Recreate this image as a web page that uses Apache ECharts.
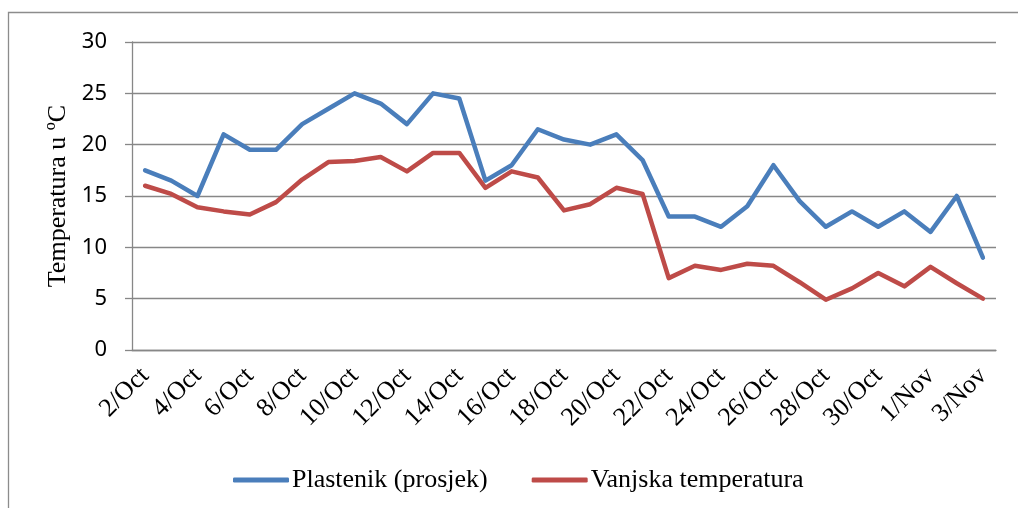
<!DOCTYPE html>
<html lang="hr">
<head>
    <meta charset="UTF-8">
    <title>Temperatura</title>
    <script src="https://cdn.jsdelivr.net/npm/echarts@6/dist/echarts.min.js"></script>
    <style>
        body, html { margin: 0; background: #fff; width: 100%; height: 100%; }
    </style>
</head>
<body>
    <div id="chart" style="width: 1018px; height: 508px;"></div>
    <script>
        // dani od 2/Oct do 3/Nov
        var days = ['2/Oct', '3/Oct', '4/Oct', '5/Oct', '6/Oct', '7/Oct', '8/Oct', '9/Oct', '10/Oct', '11/Oct',
            '12/Oct', '13/Oct', '14/Oct', '15/Oct', '16/Oct', '17/Oct', '18/Oct', '19/Oct', '20/Oct', '21/Oct',
            '22/Oct', '23/Oct', '24/Oct', '25/Oct', '26/Oct', '27/Oct', '28/Oct', '29/Oct', '30/Oct', '31/Oct',
            '1/Nov', '2/Nov', '3/Nov'];
        var plastenik = [17.5, 16.5, 15, 21, 19.5, 19.5, 22, 23.5, 25, 24, 22, 25, 24.5, 16.5, 18, 21.5, 20.5,
            20, 21, 18.5, 13, 13, 12, 14, 18, 14.5, 12, 13.5, 12, 13.5, 11.5, 15, 9];
        var vanjska = [16, 15.2, 13.9, 13.5, 13.2, 14.4, 16.6, 18.3, 18.4, 18.8, 17.4, 19.2, 19.2, 15.8, 17.4, 16.8, 13.6,
            14.2, 15.8, 15.2, 7, 8.2, 7.8, 8.4, 8.2, 6.6, 4.9, 6, 7.5, 6.2, 8.1, 6.5, 5];
        var yTicks = [0, 5, 10, 15, 20, 25, 30];

        var gray = '#878787';
        var serif = '"Liberation Serif", "Times New Roman", serif';

        var option = {
            animation: false,
            graphic: [{
                type: 'rect',
                shape: { x: 8.5, y: 12.5, width: 1100, height: 600 },
                style: { fill: 'none', stroke: '#8c8c8c', lineWidth: 1.3 },
                silent: true
            }],
            grid: { left: 132, right: 22, top: 42, bottom: 158 },
            legend: {
                left: 228,
                top: 462,
                icon: 'roundRect',
                itemWidth: 56,
                itemHeight: 5,
                itemGap: 44,
                textStyle: { fontFamily: serif, fontSize: 26, color: '#000', padding: [0, 0, 0, -2] },
                data: ['Plastenik (prosjek)', 'Vanjska temperatura']
            },
            xAxis: {
                type: 'category',
                data: days,
                boundaryGap: true,
                axisLine: { lineStyle: { color: gray, width: 1.3 } },
                axisTick: { interval: 1, length: 6, lineStyle: { color: gray, width: 1.3 } },
                axisLabel: {
                    interval: 1,
                    rotate: 45,
                    margin: 22,
                    fontFamily: serif,
                    fontSize: 26,
                    color: '#000'
                },
                splitLine: { show: false }
            },
            yAxis: {
                type: 'value',
                min: yTicks[0],
                max: yTicks[yTicks.length - 1],
                interval: 5,
                name: 'Temperatura u ºC',
                nameLocation: 'middle',
                nameRotate: 90,
                nameGap: 60,
                nameTextStyle: { fontFamily: serif, fontSize: 26, color: '#000' },
                axisLine: { show: true, lineStyle: { color: gray, width: 1.3 } },
                axisTick: { show: true, inside: false, length: 7, lineStyle: { color: gray, width: 1.3 } },
                axisLabel: {
                    margin: 25,
                    fontFamily: '"Noto Sans", sans-serif',
                    fontSize: 22,
                    color: '#000'
                },
                splitLine: { lineStyle: { color: gray, width: 1.3 } }
            },
            series: [
                {
                    name: 'Plastenik (prosjek)',
                    type: 'line',
                    symbol: 'none',
                    data: plastenik,
                    itemStyle: { color: '#4a7ebb' },
                    lineStyle: { color: '#4a7ebb', width: 4.5, cap: 'round', join: 'round' }
                },
                {
                    name: 'Vanjska temperatura',
                    type: 'line',
                    symbol: 'none',
                    data: vanjska,
                    itemStyle: { color: '#be4b48' },
                    lineStyle: { color: '#be4b48', width: 4.5, cap: 'round', join: 'round' }
                }
            ]
        };

        var myChart = echarts.init(document.getElementById('chart'));
        myChart.setOption(option);
    </script>
</body>
</html>
